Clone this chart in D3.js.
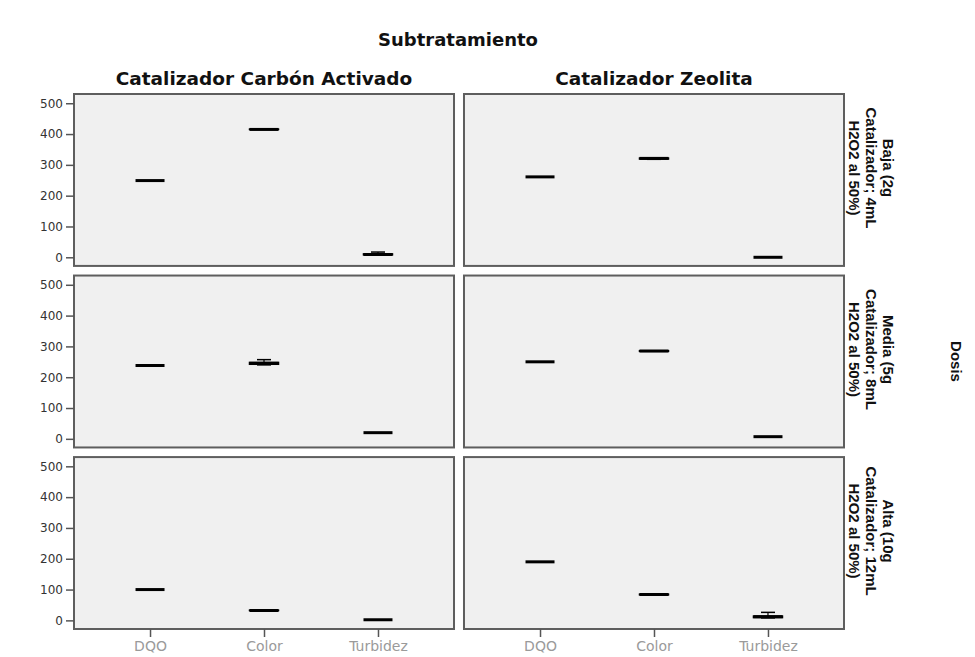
<!DOCTYPE html>
<html>
<head>
<meta charset="utf-8">
<script src="https://cdn.jsdelivr.net/npm/d3@7/dist/d3.min.js"></script>
<style>
  html, body { margin: 0; padding: 0; background: #ffffff; }
  svg { display: block; }
</style>
</head>
<body>
<svg id="chart" width="975" height="657"></svg>
<script>
// Column facets (subtratamiento) and row facets (dosis)
const subtratamientos = ["Catalizador Carbón Activado", "Catalizador Zeolita"];
const dosis = [
  ["Baja (2g", "Catalizador; 4mL", "H2O2 al 50%)"],
  ["Media (5g", "Catalizador; 8mL", "H2O2 al 50%)"],
  ["Alta (10g", "Catalizador; 12mL", "H2O2 al 50%)"]
];
const parametros = ["DQO", "Color", "Turbidez"];
const yTicks = [0, 100, 200, 300, 400, 500];

// Box statistics, indexed [dosis][subtratamiento][parametro]
const minimo = [
  [[249, 415, 8], [261, 318, 0]],
  [[238, 240, 20], [250, 284, 7]],
  [[100, 32, 2], [190, 83, 8]]
];
const q1 = [
  [[249, 415, 8], [261, 319, 0]],
  [[238, 242, 20], [250, 284, 7]],
  [[100, 32, 2], [190, 83, 9]]
];
const mediana = [
  [[249, 415, 9], [261, 321, 0]],
  [[238, 245, 20], [250, 285, 7]],
  [[100, 32, 2], [190, 84, 12]]
];
const q3 = [
  [[249, 416, 11], [261, 322, 0]],
  [[238, 248, 20], [250, 286, 7]],
  [[100, 33, 2], [190, 85, 14]]
];
const maximo = [
  [[249, 416, 17], [261, 322, 0]],
  [[238, 257, 20], [250, 286, 7]],
  [[100, 33, 2], [190, 85, 26]]
];

const svg = d3.select("#chart");

const col = d3.scaleBand().domain(d3.range(subtratamientos.length)).range([74, 844]).paddingInner(0.0256);
const row = d3.scaleBand().domain(d3.range(dosis.length)).range([94, 629]).paddingInner(0.053);
const x = d3.scalePoint().domain(parametros).range([0, col.bandwidth()]).padding(0.667);
const y = d3.scaleLinear().domain([-28, 530]).range([row.bandwidth(), 0]);

const boxW = 29;
const capW = 14;

// Overall titles
svg.append("text")
  .attr("x", 458).attr("y", 46)
  .attr("text-anchor", "middle")
  .style("font-family", "'DejaVu Sans', sans-serif")
  .style("font-weight", "bold")
  .style("font-size", "18px")
  .attr("fill", "#111")
  .text("Subtratamiento");

subtratamientos.forEach((s, j) => {
  svg.append("text")
    .attr("x", col(j) + col.bandwidth() / 2).attr("y", 85)
    .attr("text-anchor", "middle")
    .style("font-family", "'DejaVu Sans', sans-serif")
    .style("font-weight", "bold")
    .style("font-size", "18.5px")
    .attr("fill", "#111")
    .text(s);
});

// Panels
dosis.forEach((d, i) => {
  subtratamientos.forEach((s, j) => {
    const g = svg.append("g").attr("transform", `translate(${col(j)},${row(i)})`);
    g.append("rect")
      .attr("width", col.bandwidth()).attr("height", row.bandwidth())
      .attr("fill", "#f0f0f0")
      .attr("stroke", "#5e5e5e").attr("stroke-width", 2);

    if (j === 0) {
      const ax = g.append("g")
        .call(d3.axisLeft(y).tickValues(yTicks).tickSize(8).tickPadding(3));
      ax.select(".domain").remove();
      ax.selectAll("line").attr("stroke", "#555").attr("stroke-width", 1.5);
      ax.selectAll("text")
        .style("font-family", "'DejaVu Sans', sans-serif")
        .style("font-size", "12px")
        .attr("fill", "#333");
    }
    if (i === dosis.length - 1) {
      const ax = g.append("g").attr("transform", `translate(0,${row.bandwidth()})`)
        .call(d3.axisBottom(x).tickSize(8).tickPadding(4));
      ax.select(".domain").remove();
      ax.selectAll("line").attr("stroke", "#555").attr("stroke-width", 1.5);
      ax.selectAll("text")
        .style("font-family", "'DejaVu Sans', sans-serif")
        .style("font-size", "14px")
        .attr("fill", "#9a9a9a");
    }

    parametros.forEach((p, k) => {
      const cx = x(p);
      const lo = minimo[i][j][k], a = q1[i][j][k], m = mediana[i][j][k], b = q3[i][j][k], hi = maximo[i][j][k];
      const bg = g.append("g").attr("stroke", "#000");
      // whiskers and caps
      if (hi > b) {
        bg.append("line").attr("x1", cx).attr("x2", cx).attr("y1", y(b)).attr("y2", y(hi)).attr("stroke-width", 1.2);
        bg.append("line").attr("x1", cx - capW / 2).attr("x2", cx + capW / 2).attr("y1", y(hi)).attr("y2", y(hi)).attr("stroke-width", 1.5);
      }
      if (lo < a) {
        bg.append("line").attr("x1", cx).attr("x2", cx).attr("y1", y(a)).attr("y2", y(lo)).attr("stroke-width", 1.2);
        bg.append("line").attr("x1", cx - capW / 2).attr("x2", cx + capW / 2).attr("y1", y(lo)).attr("y2", y(lo)).attr("stroke-width", 1.5);
      }
      // box
      if (b > a) {
        bg.append("rect").attr("x", cx - boxW / 2).attr("width", boxW)
          .attr("y", y(b)).attr("height", y(a) - y(b))
          .attr("fill", "#f0f0f0").attr("stroke-width", 1.5);
      }
      // median
      bg.append("line").attr("x1", cx - boxW / 2).attr("x2", cx + boxW / 2)
        .attr("y1", y(m)).attr("y2", y(m)).attr("stroke-width", 3);
    });
  });

  // Row label, rotated, first line on the right
  const cy = row(i) + row.bandwidth() / 2 - 12;
  const t = svg.append("text")
    .attr("transform", `translate(888,${cy}) rotate(90)`)
    .attr("text-anchor", "middle")
    .style("font-family", "'Liberation Sans', Arial, sans-serif")
    .style("font-weight", "bold")
    .style("font-size", "15px")
    .attr("fill", "#111");
  d.forEach((line, li) => {
    t.append("tspan").attr("x", 0).attr("y", li * 17).attr("dominant-baseline", "central").text(line);
  });
});

svg.append("text")
  .attr("transform", `translate(956,${row(1) + row.bandwidth() / 2}) rotate(90)`)
  .attr("text-anchor", "middle")
  .attr("dominant-baseline", "central")
  .style("font-family", "'Liberation Sans', Arial, sans-serif")
  .style("font-weight", "bold")
  .style("font-size", "15px")
  .attr("fill", "#111")
  .text("Dosis");
</script>
</body>
</html>
